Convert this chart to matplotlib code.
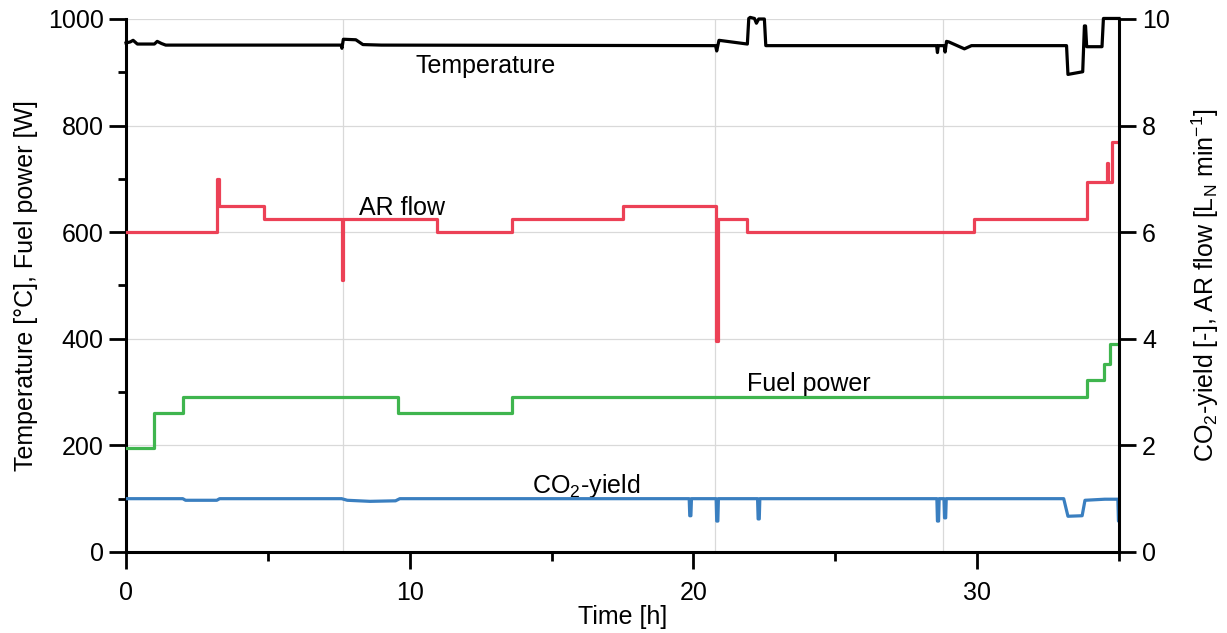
import matplotlib

matplotlib.use('Agg')

import matplotlib.pyplot as plt
from matplotlib.ticker import MultipleLocator

plt.rcParams['font.family'] = ['Liberation Sans', 'DejaVu Sans']
plt.rcParams['font.size'] = 18

# temperature [°C] (left axis)
temp_t = [0, 0.15, 0.25, 0.4, 1.0, 1.1, 1.25, 1.4, 7.58, 7.61, 7.66, 8.1, 8.35, 9.0,
          20.78, 20.82, 20.9, 21.9, 21.95, 22.0, 22.15, 22.22, 22.3, 22.5, 22.55,
          28.57, 28.6, 28.63, 28.84, 28.87, 28.92, 29.0, 29.55, 29.8,
          33.15, 33.2, 33.72, 33.78, 33.82, 33.86, 34.4, 34.45, 35.0]
temp_v = [955, 957, 960, 953, 953, 958, 954, 951, 951, 945, 962, 961, 952, 951,
          950, 940, 960, 953, 1001, 1003, 1001, 992, 1000, 1000, 950,
          950, 937, 950, 950, 938, 958, 957, 944, 950,
          950, 896, 901, 987, 987, 948, 948, 1001, 1001]

# fuel power [W] (left axis), step changes
fuel_t = [0, 0.99, 2.0, 9.6, 13.6, 33.86, 34.47, 34.68, 35.0]
fuel_v = [195, 260, 291, 260, 291, 323, 353, 390, 390]

# AR flow [L_N/min] (right axis), step changes
ar_t = [0, 3.22, 3.26, 4.87, 7.62, 7.66, 10.95, 13.6, 17.5, 20.8, 20.86, 21.9,
        29.9, 33.87, 34.56, 34.61, 34.75, 35.0]
ar_v = [6.0, 7.0, 6.5, 6.25, 5.1, 6.25, 6.0, 6.25, 6.5, 3.95, 6.25, 6.0,
        6.25, 6.95, 7.3, 6.95, 7.7, 7.7]

# CO2 yield [-] (right axis)
co2_t = [0, 2.0, 2.1, 3.2, 3.3, 7.6, 7.8, 8.6, 9.5, 9.65,
         19.85, 19.87, 19.91, 19.93, 20.8, 20.82, 20.86, 20.88,
         22.26, 22.28, 22.32, 22.34, 28.58, 28.6, 28.64, 28.66,
         28.83, 28.85, 28.89, 28.91, 33.05, 33.2, 33.7, 33.8, 34.5, 34.96, 34.98, 35.0]
co2_v = [1.0, 1.0, 0.97, 0.97, 1.0, 1.0, 0.97, 0.95, 0.96, 1.0,
         1.0, 0.68, 0.68, 1.0, 1.0, 0.58, 0.58, 1.0,
         1.0, 0.62, 0.62, 1.0, 1.0, 0.58, 0.58, 1.0,
         1.0, 0.64, 0.64, 1.0, 1.0, 0.67, 0.68, 0.97, 0.99, 0.99, 0.58, 0.58]

event_times = [7.64, 20.75, 28.8]

fig = plt.figure(figsize=(12.27, 6.33), dpi=100)
ax = fig.add_axes([0.1027, 0.128, 0.8093, 0.842])
ax2 = ax.twinx()

for t in event_times:
    ax.axvline(t, color='#d9d9d9', lw=0.9, zorder=0)
ax.yaxis.grid(True, color='#d9d9d9', lw=0.9, zorder=0)
ax.set_axisbelow(True)

ax.plot(temp_t, temp_v, color='black', lw=2.3, zorder=3, clip_on=False)
ax.plot(fuel_t, fuel_v, color='#3fb54e', lw=2.3, drawstyle='steps-post', zorder=3)
ax2.plot(ar_t, ar_v, color='#ec4156', lw=2.3, drawstyle='steps-post')
ax2.plot(co2_t, co2_v, color='#3a7fc0', lw=2.3)

ax.text(10.2, 912, 'Temperature', va='center')
ax.text(8.2, 646, 'AR flow', va='center')
ax.text(21.9, 316, 'Fuel power', va='center')
ax.text(14.3, 123, 'CO$_\\mathregular{2}$-yield', va='center')

ax.set_xlim(0, 35)
ax.set_ylim(0, 1000)
ax2.set_ylim(0, 10)

ax.xaxis.set_major_locator(MultipleLocator(10))
ax.xaxis.set_minor_locator(MultipleLocator(5))
ax.yaxis.set_major_locator(MultipleLocator(200))
ax.yaxis.set_minor_locator(MultipleLocator(100))
ax2.yaxis.set_major_locator(MultipleLocator(2))

for a in (ax, ax2):
    a.spines['top'].set_visible(False)
    for s in a.spines.values():
        s.set_linewidth(2.2)
ax.spines['right'].set_visible(False)
ax2.spines['left'].set_visible(False)
ax2.spines['bottom'].set_visible(False)

ax.tick_params(which='major', direction='out', length=12, width=2, pad=4)
ax.tick_params(axis='x', which='major', pad=9)
ax.tick_params(which='minor', direction='out', length=6.5, width=2)
ax.tick_params(axis='y', which='minor', length=6)
ax2.tick_params(direction='out', length=12.5, width=2, pad=4)

ax.set_xlabel('Time [h]', labelpad=0)
ax.set_ylabel('Temperature [°C], Fuel power [W]', labelpad=7)
ax2.set_ylabel('CO$_\\mathregular{2}$-yield [-], AR flow [L$_\\mathregular{N}$ min$^\\mathregular{-1}$]', labelpad=14)

fig.savefig('out.png', dpi=100)
plt.close(fig)
